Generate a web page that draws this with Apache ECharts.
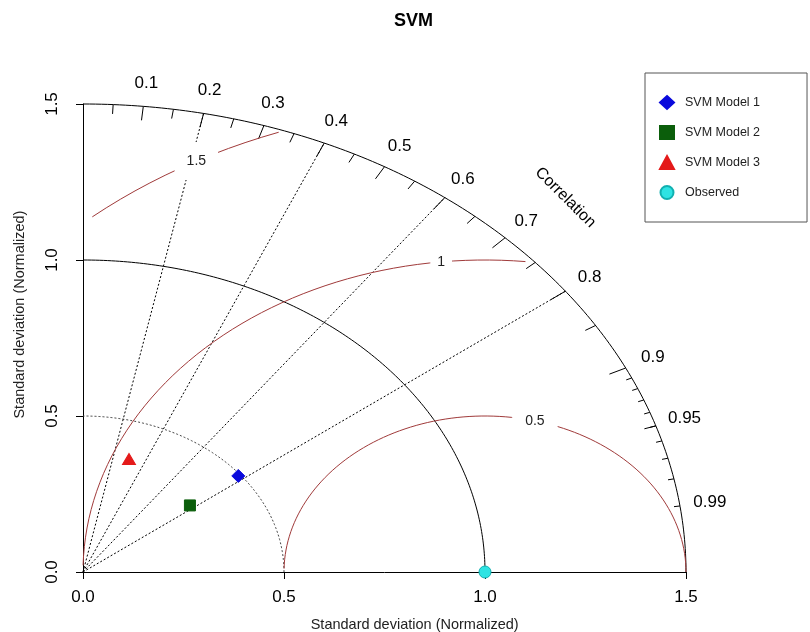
<!DOCTYPE html>
<html><head><meta charset="utf-8">
<script src="https://cdn.jsdelivr.net/npm/echarts@6/dist/echarts.min.js"></script>
<style>html,body{margin:0;padding:0;background:#fff}#c{width:810px;height:632px}</style>
</head><body><div id="c"></div>
<script>
// ---- data ----
const chartTitle = 'SVM';
const modelNames = ['SVM Model 1', 'SVM Model 2', 'SVM Model 3', 'Observed'];
const modelSD = [0.494, 0.341, 0.380, 1.0];      // normalized standard deviation
const modelCorr = [0.782, 0.780, 0.301, 1.0];    // correlation with observed
const sdTicks = [0, 0.5, 1.0, 1.5];
const corrLabels = [0.1, 0.2, 0.3, 0.4, 0.5, 0.6, 0.7, 0.8, 0.9, 0.95, 0.99];
const corrMajorTicks = [0.1, 0.2, 0.3, 0.4, 0.5, 0.6, 0.7, 0.8, 0.9];
const corrMedTicks = [0.05, 0.15, 0.25, 0.35, 0.45, 0.55, 0.65, 0.75, 0.85, 0.95];
const corrSmallTicks = [0.91, 0.92, 0.93, 0.94, 0.95, 0.96, 0.97, 0.98, 0.99];
const corrLines = [0.2, 0.4, 0.6, 0.8];
const rmsLevels = [0.5, 1, 1.5];
const rmsLabelText = ['0.5', '1', '1.5'];
const sdArcs = [0.5];
const refSD = 1.0;
const maxSD = 1.5;
const xAxisName = 'Standard deviation (Normalized)';
const yAxisName = 'Standard deviation (Normalized)';
const corrAxisName = 'Correlation';

// ---- styles ----
const FONT = '"Liberation Sans", Arial, Helvetica, sans-serif';
const RMS_COLOR = '#a03a3a';
const rmsLabelPadding = [[6, 13], [4, 7], [12, 12]];
const markerStyles = [
  { symbol: 'diamond', size: [13, 13], color: '#0a0adc', border: '#0a0adc' },
  { symbol: 'rect', size: [11, 11], color: '#0b5e0b', border: '#0b5e0b' },
  { symbol: 'triangle', size: [13, 11], color: '#e41a1a', border: '#e41a1a' },
  { symbol: 'circle', size: [12, 12], color: '#2ee3e3', border: '#10b0b0' }
];

const toXY = (sd, c) => [sd * c, sd * Math.sqrt(Math.max(0, 1 - c * c))];
function arc(cx, cy, r, a0, a1, step) {
  const pts = [];
  for (let a = a0; a < a1; a += step) pts.push([cx + r * Math.cos(a), cy + r * Math.sin(a)]);
  pts.push([cx + r * Math.cos(a1), cy + r * Math.sin(a1)]);
  return pts;
}
// centered-RMS contour, sampled like plotrix (0.03 rad steps)
function rmsCurve(g) {
  const xs = [], ys = [];
  for (let k = 0; k < 105; k++) { xs.push(Math.cos(k * 0.03) * g + refSD); ys.push(Math.sin(k * 0.03) * g); }
  let end = xs.findIndex(x => x < 0); end = end >= 0 ? end - 1 : 104;
  let start = -1;
  for (let i = 0; i < 105; i++) if (xs[i] * xs[i] + ys[i] * ys[i] > maxSD * maxSD) start = i;
  start = start + 1;
  const pts = [];
  for (let i = start; i <= end; i++) pts.push([xs[i], ys[i]]);
  return { pts, xs, ys };
}
const rmsLabelIdx = [44, 56, 69];

const decorSeries = {
  type: 'custom', name: 'decor', coordinateSystem: 'cartesian2d', clip: false, silent: true, z: 1,
  data: [[0, 0]],
  renderItem: (params, api) => {
    const C = p => api.coord(p);
    const children = [];
    const poly = (pts, style) => children.push({ type: 'polyline', shape: { points: pts.map(C) }, style: Object.assign({ fill: null, lineWidth: 1 }, style) });
    // sd arcs
    poly(arc(0, 0, refSD, 0, Math.PI / 2, 0.01), { stroke: '#000' });
    poly(arc(0, 0, maxSD, 0, Math.PI / 2, 0.01), { stroke: '#000' });
    sdArcs.forEach(r => poly(arc(0, 0, r, 0, Math.PI / 2, 0.01), { stroke: '#444', lineDash: [2, 2] }));
    // radial correlation lines
    corrLines.forEach(c => poly([[0, 0], toXY(maxSD, c)], { stroke: '#000', lineDash: [2, 2] }));
    // ticks on outer arc
    corrMajorTicks.forEach(c => poly([toXY(maxSD, c), toXY(maxSD * 0.97, c)], { stroke: '#000' }));
    corrMedTicks.forEach(c => poly([toXY(maxSD, c), toXY(maxSD * 0.98, c)], { stroke: '#000' }));
    corrSmallTicks.forEach(c => poly([toXY(maxSD, c), toXY(maxSD * 0.99, c)], { stroke: '#000' }));
    // RMS contours
    rmsLevels.forEach(g => poly(rmsCurve(g).pts, { stroke: RMS_COLOR }));
    return { type: 'group', children };
  }
};

const labelSeries = {
  type: 'custom', name: 'labels', coordinateSystem: 'cartesian2d', clip: false, silent: true, z: 3,
  data: [[0, 0]],
  renderItem: (params, api) => {
    const C = p => api.coord(p);
    const children = [];
    const txt = (p, text, style, extra) => {
      const q = C(p);
      children.push(Object.assign({ type: 'text', x: q[0], y: q[1], style: Object.assign({ text, fill: '#000', fontFamily: FONT, fontSize: 17, align: 'center', verticalAlign: 'middle' }, style) }, extra || {}));
    };
    corrLabels.forEach(c => txt(toXY(maxSD * 1.05, c), String(c), { fontSize: 17 }));
    txt([maxSD * 0.8, maxSD * 0.8], corrAxisName, { fontSize: 16 }, { rotation: -Math.PI / 4 });
    rmsLevels.forEach((g, i) => {
      const cv = rmsCurve(g);
      const k = rmsLabelIdx[i];
      txt([cv.xs[k], cv.ys[k]], rmsLabelText[i], { fontSize: 14, fill: '#222', backgroundColor: '#fff', padding: rmsLabelPadding[i] });
    });
    // axis names, centred on the full plot region (0 .. 1.1 * maxSD)
    const xc = C([0.55 * maxSD, 0]);
    children.push({ type: 'text', x: xc[0], y: xc[1] + 53, style: { text: xAxisName, fill: '#222', fontFamily: FONT, fontSize: 14.5, align: 'center', verticalAlign: 'middle' } });
    const yc = C([0, 0.55 * maxSD]);
    children.push({ type: 'text', x: yc[0] - 63, y: yc[1], rotation: Math.PI / 2, style: { text: yAxisName, fill: '#222', fontFamily: FONT, fontSize: 14.5, align: 'center', verticalAlign: 'middle' } });
    return { type: 'group', children };
  }
};

const modelSeries = modelNames.map((name, i) => ({
  type: 'scatter', name, clip: false, z: 5,
  symbol: markerStyles[i].symbol, symbolSize: markerStyles[i].size,
  itemStyle: { color: markerStyles[i].color, borderColor: markerStyles[i].border, borderWidth: 1, opacity: 1 },
  data: [toXY(modelSD[i], modelCorr[i])]
}));

const axisCommon = {
  type: 'value', min: sdTicks[0], max: maxSD, interval: 0.5,
  splitLine: { show: false },
  axisLine: { show: true, onZero: false, lineStyle: { color: '#000', width: 1 } },
  axisTick: { show: true, length: 7, lineStyle: { color: '#000' } },
  axisLabel: { color: '#000', fontSize: 17, fontFamily: FONT, formatter: v => v.toFixed(1) }
};

const option = {
  backgroundColor: '#fff',
  animation: false,
  title: { text: chartTitle, left: 394, top: 12, padding: 0, textStyle: { fontSize: 18, fontWeight: 'bold', fontFamily: FONT, color: '#000' } },
  legend: {
    data: modelNames, orient: 'vertical', left: 645, top: 73,
    padding: [22, 47, 22, 14], itemWidth: 14, itemHeight: 13, itemGap: 15,
    borderColor: '#555', borderWidth: 1, selectedMode: false,
    textStyle: { fontSize: 12.5, fontFamily: FONT, color: '#222', padding: [0, 0, 0, 6] }
  },
  grid: { left: 83, right: 124, top: 104, bottom: 60, containLabel: false },
  xAxis: Object.assign({}, axisCommon, { axisLabel: Object.assign({}, axisCommon.axisLabel, { margin: 17 }) }),
  yAxis: Object.assign({}, axisCommon, { axisLabel: Object.assign({}, axisCommon.axisLabel, { rotate: 90, margin: 22 }) }),
  series: [decorSeries, labelSeries].concat(modelSeries)
};
const chart = echarts.init(document.getElementById('c'));
chart.setOption(option);
</script>
</body></html>
